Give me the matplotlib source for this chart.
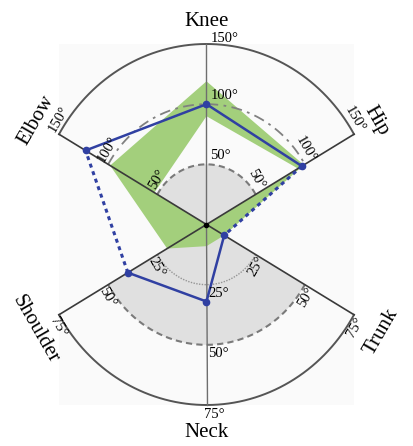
import numpy as np
import matplotlib

matplotlib.use("Agg")
import matplotlib.pyplot as plt
from matplotlib.path import Path
from matplotlib.patches import PathPatch

plt.rcParams["font.family"] = ["Liberation Serif", "DejaVu Serif"]

# Axes of the chart, clockwise from the top
axis_names = ["Knee", "Hip", "Trunk", "Neck", "Shoulder", "Elbow"]
axis_angles = [0, 60, 120, 180, 240, 300]
axis_max = [150, 150, 75, 75, 75, 150]
upper_ticks = [50, 100, 150]
lower_ticks = [25, 50, 75]

# Joint angles (degrees)
measured = [100, 97, 9, 32, 40, 123]
range_high = [119, 99, 9, 9, 20, 98]
range_low = [90, 93, 0, 0, 0, 53]
comfort_upper = 50
comfort_lower = 50

BLUE = "#3040a2"
GREEN = "#a3cf7c"
GREY = "#e0e0e0"


def to_xy(values):
    v = np.asarray(values, float) / np.asarray(axis_max, float)
    a = np.radians(axis_angles)
    return v * np.sin(a), v * np.cos(a)


def arc(r, a0, a1, n=200):
    t = np.radians(np.linspace(a0, a1, n))
    return r * np.sin(t), r * np.cos(t)


fig = plt.figure(figsize=(4.14, 4.46), dpi=100)
ax = fig.add_axes([59 / 414, 41 / 446, 295 / 414, 361 / 446])
ax.set_facecolor("#fafafa")
for s in ax.spines.values():
    s.set_visible(False)
ax.set_xticks([])
ax.set_yticks([])
half = np.sin(np.radians(60))
ax.set_xlim(-half, half)
ax.set_ylim(-1, 1)

# grey comfort sectors
x, y = arc(comfort_upper / 150, -60, 60)
ax.fill(np.r_[0, x], np.r_[0, y], color=GREY, lw=0, zorder=1)
x, y = arc(comfort_lower / 75, 120, 240)
ax.fill(np.r_[0, x], np.r_[0, y], color=GREY, lw=0, zorder=1)

# green range band (outer polygon with inner hole)
ox, oy = to_xy(range_high)
ix, iy = to_xy(range_low)
verts = list(zip(ox, oy)) + [(ox[0], oy[0])] + list(zip(ix[::-1], iy[::-1])) + [(ix[-1], iy[-1])]
codes = ([Path.MOVETO] + [Path.LINETO] * (len(ox) - 1) + [Path.CLOSEPOLY]) * 2
ax.add_patch(PathPatch(Path(verts, codes), facecolor=GREEN, edgecolor="none", zorder=2))

# grid arcs
x, y = arc(1, -60, 60)
ax.plot(x, y, color="#555555", lw=1.4, zorder=3, clip_on=False)
x, y = arc(1, 120, 240)
ax.plot(x, y, color="#555555", lw=1.4, zorder=3, clip_on=False)
x, y = arc(100 / 150, -60, 60)
ax.plot(x, y, color="#808080", lw=1.3, ls=(0, (6, 3, 1.5, 3)), zorder=3)
x, y = arc(50 / 150, -60, 60)
ax.plot(x, y, color="#7a7a7a", lw=1.5, ls=(0, (3, 2)), zorder=3)
x, y = arc(50 / 75, 120, 240)
ax.plot(x, y, color="#7a7a7a", lw=1.5, ls=(0, (3, 2)), zorder=3)
x, y = arc(25 / 75, 120, 240)
ax.plot(x, y, color="#959595", lw=1.0, ls=(0, (1, 1)), zorder=3)

# spokes
for ang in axis_angles:
    t = np.radians(ang)
    if ang in (0, 180):
        ax.plot([0, np.sin(t)], [0, np.cos(t)], color="#6e6e6e", lw=1.0, zorder=3, clip_on=False)
    else:
        ax.plot([0, np.sin(t)], [0, np.cos(t)], color="#3a3a3a", lw=1.2, zorder=3, clip_on=False)
ax.plot([0], [0], "o", color="black", ms=3, zorder=4)

# measured posture
mx, my = to_xy(measured)
for seg in ([5, 0, 1], [2, 3, 4]):
    ax.plot(mx[seg], my[seg], color=BLUE, lw=1.8, zorder=5)
for seg in ([1, 2], [4, 5]):
    ax.plot(mx[seg], my[seg], color=BLUE, lw=2.2, ls=(0, (1.3, 1.3)), zorder=5)
ax.plot(mx, my, "o", color=BLUE, ms=4.5, ls="none", zorder=6, clip_on=False)

# tick labels
px = 0.72
for ang, m in zip(axis_angles, axis_max):
    ticks = upper_ticks if m == 150 else lower_ticks
    t = np.radians(ang)
    for v in ticks:
        r = v / m
        pos = (r * np.sin(t), r * np.cos(t))
        lab = f"{v}°"
        if ang == 0:
            dy = -1 if v == 150 else 2
            ax.annotate(lab, pos, xytext=(4 * px, dy * px), textcoords="offset points",
                        ha="left", va="bottom", fontsize=10.5, zorder=7)
        elif ang == 180:
            if v == 75:
                ax.annotate(lab, pos, xytext=(8 * px, -3 * px), textcoords="offset points",
                            ha="center", va="top", fontsize=10.5, zorder=7)
            else:
                ax.annotate(lab, pos, xytext=(2 * px, -2 * px), textcoords="offset points",
                            ha="left", va="top", fontsize=10.5, zorder=7)
        else:
            if ang in (60, 240):
                tan = (-np.cos(t), np.sin(t))
            else:
                tan = (np.cos(t), -np.sin(t))
            rad = (np.sin(t), np.cos(t))
            dt, dr = (13, 8) if m == 150 else (10, 7)
            off = (tan[0] * dt + rad[0] * dr, tan[1] * dt + rad[1] * dr)
            rot = ((-ang + 90) % 180) - 90
            ax.annotate(lab, pos, xytext=(off[0] * px, off[1] * px), textcoords="offset points",
                        ha="center", va="center", rotation=rot, rotation_mode="anchor",
                        fontsize=10.5, zorder=7)

# axis names
name_radius = [1.125, 1.154, 1.185, 1.153, 1.163, 1.154]
for name, ang, r in zip(axis_names, axis_angles, name_radius):
    t = np.radians(ang)
    rot = 0 if ang in (0, 180) else ((-ang + 90) % 180) - 90
    ax.text(r * np.sin(t), r * np.cos(t), name, ha="center", va="center",
            rotation=rot, rotation_mode="anchor", fontsize=15, clip_on=False)

fig.savefig("out.png", dpi=100)
